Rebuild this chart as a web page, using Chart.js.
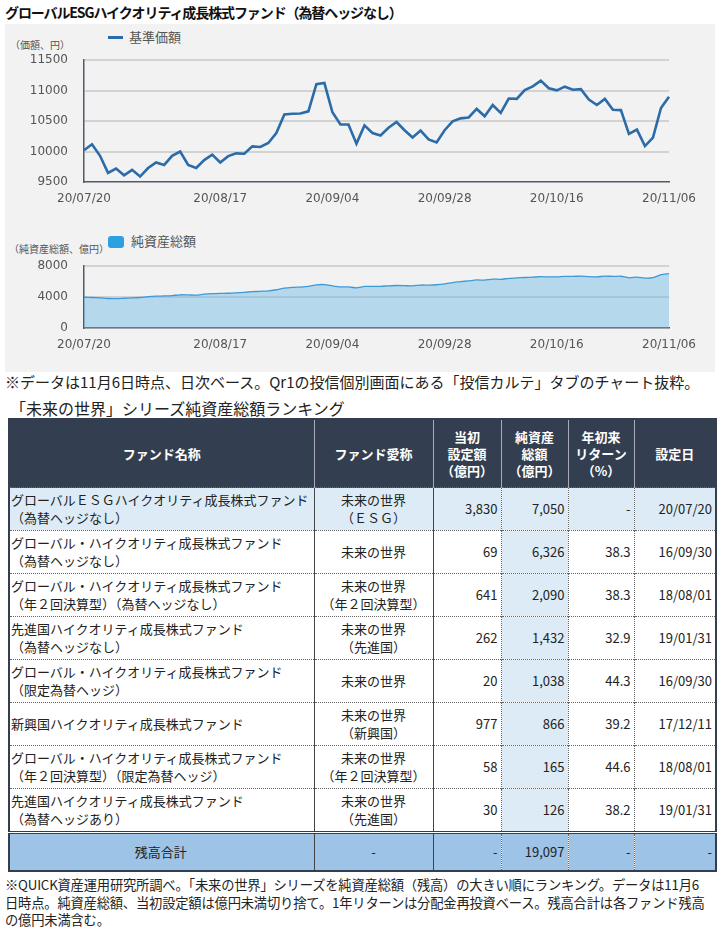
<!DOCTYPE html>
<html><head><meta charset="utf-8">
<script src="https://cdn.jsdelivr.net/npm/chart.js@4.4.1/dist/chart.umd.min.js"></script>
<style>
html,body{margin:0;padding:0;background:#fff;width:721px;height:940px;overflow:hidden;position:relative;font-family:"Noto Sans CJK JP","Noto Sans",sans-serif;color:#222}
.abs{position:absolute;white-space:nowrap}
#panel{position:absolute;left:5px;top:24px;width:710px;height:348px;background:#f2f2f2}
#title{left:5px;top:2px;font-size:14px;font-weight:bold;letter-spacing:-1.1px;line-height:20px;color:#111}
.unit{font-size:10px;color:#555;line-height:14px}
.legtxt{font-size:13px;color:#555;line-height:16px}
canvas{position:absolute;left:0}
#note{left:5px;top:372px;font-size:15px;line-height:20px;letter-spacing:0px}
#ttitle{left:10px;top:397px;font-size:16px;line-height:22px}
table{position:absolute;left:8px;top:418px;border-collapse:collapse;table-layout:fixed;width:707px;font-size:13px;border:2px solid #333f50}
th{background:#333f50;color:#fff;font-weight:bold;height:67px;padding:0;line-height:17px;border-left:1px solid #aab;text-align:center;font-size:13px}
td{height:42px;padding:0 3px;line-height:18px;border-top:1px dotted #666;white-space:nowrap;overflow:hidden}
td.name{text-align:left;padding-left:1px;border-right:1px solid #444}
td.nick{text-align:center;border-right:1px solid #444}
td.num{text-align:right;border-left:1px dotted #666}
td.na{background:#ddebf7}
tr.first td{background:#ddebf7}
tr.total td{background:#9dc3e6;border-top:3px double #333f50;height:36px}
td.c{text-align:center}
#foot{left:5px;top:876px;font-size:13.3px;line-height:17.5px;letter-spacing:-0.2px}
</style></head>
<body>
<div class="abs" id="title">グローバルESGハイクオリティ成長株式ファンド（為替ヘッジなし）</div>
<div id="panel"></div>
<div class="abs unit" style="left:10px;top:38px">（価額、円）</div>
<div class="abs" style="left:108px;top:36px;width:15px;height:3px;background:#2b6ca8"></div>
<div class="abs legtxt" style="left:129px;top:29px">基準価額</div>
<canvas id="c1" width="721" height="173" style="top:37px"></canvas>
<div class="abs unit" style="left:9px;top:242px">（純資産総額、億円）</div>
<div class="abs" style="left:108px;top:236px;width:16px;height:12px;background:#2e9fe0;border-radius:3px"></div>
<div class="abs legtxt" style="left:131px;top:233px">純資産総額</div>
<canvas id="c2" width="721" height="113" style="top:243px"></canvas>
<div class="abs" id="note">※データは11月6日時点、日次ベース。Qr1の投信個別画面にある「投信カルテ」タブのチャート抜粋。</div>
<div class="abs" id="ttitle">「未来の世界」シリーズ純資産総額ランキング</div>
<table id="tbl">
<colgroup><col style="width:305px"><col style="width:119px"><col style="width:68px"><col style="width:67px"><col style="width:66px"><col style="width:82px"></colgroup>
<thead><tr id="hrow"></tr></thead>
<tbody id="tbody"></tbody>
</table>
<div class="abs" id="foot">※QUICK資産運用研究所調べ。「未来の世界」シリーズを純資産総額（残高）の大きい順にランキング。データは11月6<br>日時点。純資産総額、当初設定額は億円未満切り捨て。1年リターンは分配金再投資ベース。残高合計は各ファンド残高<br>の億円未満含む。</div>
<script>
// ---- chart data ----
const dates = [
 "20/07/20","20/07/21","20/07/22","20/07/27","20/07/28","20/07/29","20/07/30","20/07/31",
 "20/08/03","20/08/04","20/08/05","20/08/06","20/08/07","20/08/11","20/08/12","20/08/13","20/08/14",
 "20/08/17","20/08/18","20/08/19","20/08/20","20/08/21","20/08/24","20/08/25","20/08/26","20/08/27","20/08/28","20/08/31",
 "20/09/01","20/09/02","20/09/03","20/09/04","20/09/07","20/09/08","20/09/09","20/09/10","20/09/11",
 "20/09/14","20/09/15","20/09/16","20/09/17","20/09/18","20/09/23","20/09/24","20/09/25",
 "20/09/28","20/09/29","20/09/30","20/10/01","20/10/02","20/10/05","20/10/06","20/10/07","20/10/08","20/10/09",
 "20/10/12","20/10/13","20/10/14","20/10/15","20/10/16","20/10/19","20/10/20","20/10/21","20/10/22","20/10/23",
 "20/10/26","20/10/27","20/10/28","20/10/29","20/10/30","20/11/02","20/11/04","20/11/05","20/11/06"];
const shownDates = ["20/07/20","20/08/17","20/09/04","20/09/28","20/10/16","20/11/06"];
const navValues = [
 10020,10120,9930,9650,9720,9610,9700,9590,9730,9820,9780,9930,10000,9780,9730,9860,9950,
 9820,9925,9970,9965,10085,10075,10140,10305,10610,10620,10625,10660,11105,11125,10645,10445,10445,10130,
 10430,10305,10265,10390,10485,10350,10230,10345,10200,10150,10350,10495,10545,10560,10700,10580,10765,10635,10870,
 10865,11010,11070,11165,11040,11005,11065,11015,11025,10855,10765,10865,10685,10680,10290,10360,10090,10230,10715,10900];
const assetValues = [
 3980,3950,3900,3820,3800,3850,3900,3950,4050,4120,4150,4200,4300,4280,4260,4380,4450,
 4480,4500,4560,4620,4700,4750,4800,4950,5150,5250,5300,5380,5580,5620,5450,5320,5330,5200,
 5380,5400,5400,5460,5500,5480,5450,5560,5560,5600,5700,5880,6000,6100,6220,6200,6330,6300,6430,
 6480,6540,6580,6640,6620,6630,6680,6680,6720,6650,6620,6720,6680,6700,6500,6580,6460,6520,6900,7050];
const navTicks = [9500, 11500, 500];
const assetTicks = [0, 8000, 2000];

// ---- table data ----
const headers = ["ファンド名称","ファンド愛称","当初<br>設定額<br>（億円）","純資産<br>総額<br>（億円）","年初来<br>リターン<br>（%）","設定日"];
const fundNames = [
 "グローバルＥＳＧハイクオリティ成長株式ファンド\n（為替ヘッジなし）",
 "グローバル・ハイクオリティ成長株式ファンド\n（為替ヘッジなし）",
 "グローバル・ハイクオリティ成長株式ファンド\n（年２回決算型）（為替ヘッジなし）",
 "先進国ハイクオリティ成長株式ファンド\n（為替ヘッジなし）",
 "グローバル・ハイクオリティ成長株式ファンド\n（限定為替ヘッジ）",
 "新興国ハイクオリティ成長株式ファンド",
 "グローバル・ハイクオリティ成長株式ファンド\n（年２回決算型）（限定為替ヘッジ）",
 "先進国ハイクオリティ成長株式ファンド\n（為替ヘッジあり）"];
const nicknames = ["未来の世界\n（ＥＳＧ）","未来の世界","未来の世界\n（年２回決算型）","未来の世界\n（先進国）","未来の世界","未来の世界\n（新興国）","未来の世界\n（年２回決算型）","未来の世界\n（先進国）"];
const initialAmounts = ["3,830","69","641","262","20","977","58","30"];
const netAssets = ["7,050","6,326","2,090","1,432","1,038","866","165","126"];
const ytdReturns = ["-","38.3","38.3","32.9","44.3","39.2","44.6","38.2"];
const inceptionDates = ["20/07/20","16/09/30","18/08/01","19/01/31","16/09/30","17/12/11","18/08/01","19/01/31"];
const totalRow = ["残高合計","-","-","19,097","-","-"];

// ---- build table ----
const br = s => s.split("\n").join("<br>");
document.getElementById("hrow").innerHTML = headers.map((h,i)=>`<th${i===0?' style="border-left:none"':''}>${h}</th>`).join("");
let rows = "";
for (let i=0;i<fundNames.length;i++){
  rows += `<tr${i===0?' class="first"':''}><td class="name">${br(fundNames[i])}</td><td class="nick">${br(nicknames[i])}</td>`+
    `<td class="num" style="border-left:none">${initialAmounts[i]}</td><td class="num na">${netAssets[i]}</td><td class="num">${ytdReturns[i]}</td><td class="num">${inceptionDates[i]}</td></tr>`;
}
rows += `<tr class="total"><td class="name c">${totalRow[0]}</td><td class="nick">${totalRow[1]}</td><td class="num" style="border-left:none">${totalRow[2]}</td><td class="num">${totalRow[3]}</td><td class="num">${totalRow[4]}</td><td class="num">${totalRow[5]}</td></tr>`;
document.getElementById("tbody").innerHTML = rows;

// ---- charts ----
Chart.defaults.font.family = "'DejaVu Sans', Verdana, sans-serif";
Chart.defaults.font.size = 12;
Chart.defaults.color = "#555";
const axisColor = "#4d5b6a";
const gridColor = "#d2d2d2";

function xAxis(){
  return {
    type:"category", offset:false,
    grid:{display:false, drawTicks:false},
    border:{display:true,color:axisColor,width:1.5},
    ticks:{autoSkip:false,maxRotation:0,minRotation:0,padding:10,color:"#555",
      callback:function(v){const l=this.getLabelForValue(v);return shownDates.includes(l)?l:"";}},
    afterFit:s=>{s.height=28;}
  };
}
function yAxis(t, labelFn){
  return {
    min:t[0], max:t[1],
    grid:{drawTicks:false,lineWidth:2,color:c=>c.tick && c.tick.value===t[0]?"transparent":gridColor},
    border:{display:true,color:axisColor,width:1.5},
    ticks:{stepSize:t[2],padding:16,color:"#555",callback:labelFn},
    afterFit:s=>{s.width=84;}
  };
}

new Chart(document.getElementById("c1"),{
  type:"line",
  data:{labels:dates,datasets:[{label:"基準価額",data:navValues,borderColor:"#2b6ca8",borderWidth:2.6,pointRadius:0,tension:0,fill:false}]},
  options:{responsive:false,animation:false,devicePixelRatio:1,
    layout:{padding:{top:10,left:0,right:52,bottom:0}},
    plugins:{legend:{display:false},tooltip:{enabled:false}},
    scales:{x:xAxis(),y:yAxis(navTicks,v=>String(v))}}
});

new Chart(document.getElementById("c2"),{
  type:"line",
  data:{labels:dates,datasets:[{label:"純資産総額",data:assetValues,borderColor:"#3d9ad6",borderWidth:1.3,pointRadius:0,tension:0.2,
    fill:"origin",backgroundColor:"rgba(100,180,230,0.42)"}]},
  options:{responsive:false,animation:false,devicePixelRatio:1,
    layout:{padding:{top:10,left:0,right:52,bottom:0}},
    plugins:{legend:{display:false},tooltip:{enabled:false}},
    scales:{x:xAxis(),y:yAxis(assetTicks,v=>v%4000===0?String(v):"")}}
});
</script>
</body></html>
